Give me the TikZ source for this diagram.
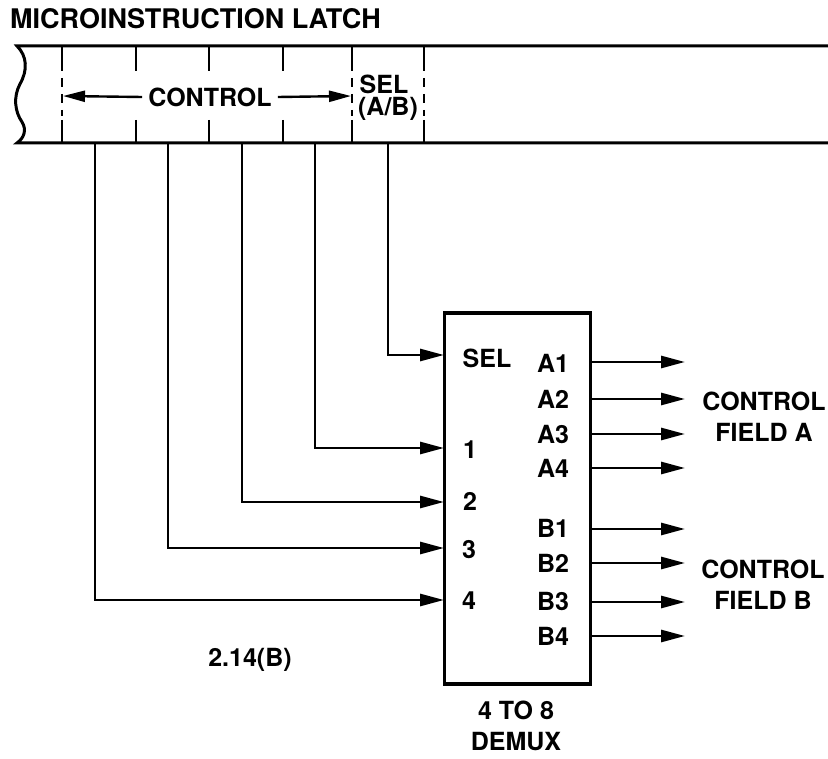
\documentclass[tikz,border=0pt]{standalone}
\usepackage{fontspec}
\setmainfont{TeX Gyre Heros}
\usetikzlibrary{arrows.meta}
\begin{document}
\begin{tikzpicture}[x=1pt,y=-1pt,
  wire/.style={line width=2.8pt},
  sig/.style={line width=2.8pt,-{Triangle[length=24pt,width=12pt]}},
  lbl/.style={font=\fontsize{25}{31}\selectfont\bfseries,inner sep=0pt},
  tick/.style={line width=2.4pt},
  dtick/.style={line width=2.4pt,dash pattern=on 9pt off 7pt}]
\useasboundingbox (0,0) rectangle (828,759);
% title
\node[lbl,anchor=west,font=\fontsize{27}{31}\selectfont\bfseries] (title) at (10,19) {MICROINSTRUCTION LATCH};
% latch
\draw[line width=3pt] (828,46) -- (17,46)
  .. controls (27,56) and (28,70) .. (20,84)
  .. controls (13,97) and (15,112) .. (22,122)
  .. controls (27,130) and (24,138) .. (17,143) -- (828,143);
\foreach \x in {62,136,209,283,352,424}{
  \draw[tick] (\x,46) -- (\x,71);
  \draw[tick] (\x,120) -- (\x,143);
}
\foreach \x in {62,352,424}{
  \draw[dtick] (\x,78) -- (\x,116);
}
\node[lbl] (ctrl) at (210,97) {CONTROL};
\coordinate (cl) at (63,96);
\coordinate (cr) at (351,96);
\draw[line width=2.4pt,-{Triangle[length=22pt,width=11pt]}] (ctrl.west) ++(-6,0) -- (cl);
\draw[line width=2.4pt,-{Triangle[length=22pt,width=11pt]}] (ctrl.east) ++(6,0) -- (cr);
\node[lbl] (sel) at (384,84) {SEL};
\node[lbl] (ab) at (388,109) {(A/B)};
% wire outlets
\coordinate (w4) at (95,143);
\coordinate (w3) at (168,143);
\coordinate (w2) at (242,143);
\coordinate (w1) at (315,143);
\coordinate (ws) at (388,143);
% demux box
\node[draw,line width=3.4pt,minimum width=146pt,minimum height=371pt,inner sep=0pt] (demux) at (517.5,498.5) {};
\coordinate (is) at (444,355);
\coordinate (i1) at (444,448);
\coordinate (i2) at (444,502);
\coordinate (i3) at (444,548);
\coordinate (i4) at (444,600);
\draw[sig] (ws) |- (is);
\draw[sig] (w1) |- (i1);
\draw[sig] (w2) |- (i2);
\draw[sig] (w3) |- (i3);
\draw[sig] (w4) |- (i4);
% inside labels
\node[lbl] (lsel) at (487,358) {SEL};
\node[lbl] (l1) at (470,450) {1};
\node[lbl] (l2) at (470,501) {2};
\node[lbl] (l3) at (469,550) {3};
\node[lbl] (l4) at (469,601) {4};
\foreach \n/\y in {A1/363,A2/399,A3/434,A4/468,B1/528,B2/563,B3/601,B4/636}{
  \node[lbl] (l\n) at (553,\y) {\n};
}
% outputs
\foreach \n/\y in {A1/362,A2/399,A3/434,A4/468,B1/529,B2/563,B3/602,B4/636}{
  \coordinate (o\n) at (591,\y);
  \coordinate (t\n) at (685,\y);
  \draw[sig] (o\n) -- (t\n);
}
\node[lbl,align=center] (fa) at (764,417) {CONTROL\\FIELD A};
\node[lbl,align=center] (fb) at (763,585) {CONTROL\\FIELD B};
\node[lbl] (fig) at (250,660) {2.14(B)};
\node[lbl,align=center] (dm) at (516,726) {4 TO 8\\DEMUX};
\end{tikzpicture}
\end{document}
